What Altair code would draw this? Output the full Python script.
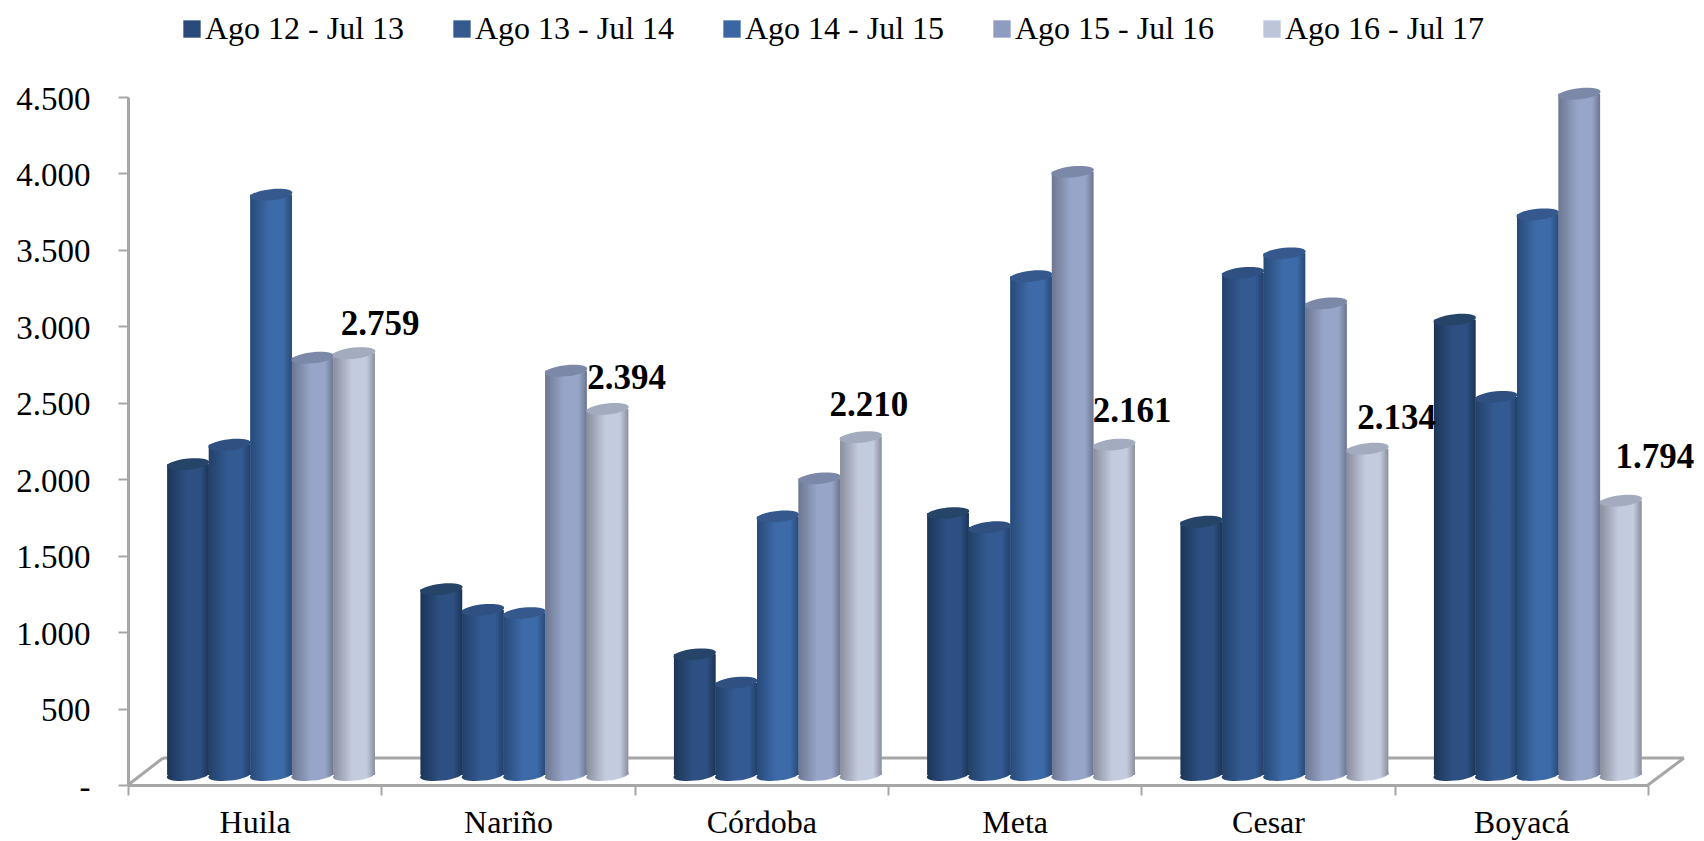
import altair as alt
import pandas as pd

categories = ["Huila", "Nariño", "Córdoba", "Meta", "Cesar", "Boyacá"]
series = ["Ago 12 - Jul 13", "Ago 13 - Jul 14", "Ago 14 - Jul 15", "Ago 15 - Jul 16", "Ago 16 - Jul 17"]
values = {
    series[0]: [2033, 1215, 789, 1713, 1656, 2978],
    series[1]: [2160, 1080, 604, 1620, 3284, 2473],
    series[2]: [3795, 1059, 1691, 3262, 3412, 3667],
    series[3]: [2729, 2644, 1940, 3945, 3085, 4456],
    series[4]: [2759, 2394, 2210, 2161, 2134, 1794],
}
legend_colors = ["#2A4A7B", "#345A8F", "#3A66A3", "#8D9CC0", "#BCC5DA"]
edge_colors = ["#1C3557", "#234069", "#274A78", "#6C7691", "#8A8F9E"]
mid_colors = ["#2D4F81", "#335A92", "#3D6AA8", "#97A6C8", "#C3CBDE"]
cap_colors = ["#264468", "#2F5080", "#35598C", "#7B88A8", "#A3ABBE"]
label_dx = [26, 19, 8, 18, 29, 34]
label_dy = [-29, -31, -32, -34, -31, -44]
FONT = "Liberation Serif"
GREY = "#A6A6A6"
SHIFT_Y = -10

rows = [{"cat": c, "s": s, "v": values[s][i]} for s in series for i, c in enumerate(categories)]
df = pd.DataFrame(rows)

x = alt.X("cat:N", sort=categories, scale=alt.Scale(paddingInner=0, paddingOuter=0),
          axis=alt.Axis(title=None, labelAngle=0, labelFont=FONT, labelFontSize=32, labelColor="#000000",
                        tickBand="extent", tickSize=10, tickWidth=2, tickColor=GREY, domainWidth=3,
                        domainColor=GREY, labelPadding=12, grid=False))
xo = alt.XOffset("s:N", sort=series, scale=alt.Scale(paddingInner=0, paddingOuter=0.55, align=0.86))
yscale = alt.Scale(domain=[0, 4500], nice=False)
yaxis = alt.Axis(title=None, values=[0, 500, 1000, 1500, 2000, 2500, 3000, 3500, 4000, 4500],
                 labelExpr="datum.value == 0 ? '-\u00a0\u00a0\u00a0\u00a0' : replace(format(datum.value, ','), ',', '.')",
                 labelFont=FONT, labelFontSize=33, labelColor="#000000", tickSize=10, tickWidth=2,
                 tickColor=GREY, domainWidth=3, domainColor=GREY, labelPadding=28, labelOffset=2, grid=False)
y = alt.Y("v:Q", scale=yscale, axis=yaxis)


def grad(i):
    return alt.LinearGradient(
        gradient="linear", x1=0, x2=1, y1=0, y2=0,
        stops=[alt.GradientStop(offset=0, color=edge_colors[i]),
               alt.GradientStop(offset=0.45, color=mid_colors[i]),
               alt.GradientStop(offset=0.8, color=mid_colors[i]),
               alt.GradientStop(offset=1, color=edge_colors[i])])


BAR_W = 42.5
ELLIPSE = "M -1 0.1 A 1 0.26 -6 1 0 1 -0.1 A 1 0.26 -6 1 0 -1 0.1 Z"
layers = []
# floor of the 3D box
one = pd.DataFrame({"a": [0]})
layers.append(alt.Chart(one).mark_rule(color=GREY, strokeWidth=3).encode(
    x=alt.value(0), x2=alt.value(35), y=alt.value(688), y2=alt.value(661)))
layers.append(alt.Chart(one).mark_rule(color=GREY, strokeWidth=3).encode(
    x=alt.value(35), x2=alt.value(1556), y=alt.value(661), y2=alt.value(661)))
layers.append(alt.Chart(one).mark_rule(color=GREY, strokeWidth=3).encode(
    x=alt.value(1520), x2=alt.value(1556), y=alt.value(688), y2=alt.value(661)))

# solid base bars carry the legend
layers.append(alt.Chart(df).mark_bar(yOffset=SHIFT_Y, y2Offset=SHIFT_Y).encode(
    x=x, xOffset=xo, y=y,
    color=alt.Color("s:N", sort=series, scale=alt.Scale(domain=series, range=legend_colors),
                    legend=alt.Legend(title=None, orient="none", legendX=48, legendY=-86, columns=5,
                                      direction="horizontal", symbolType="square", symbolSize=300,
                                      symbolStrokeWidth=0, labelFont=FONT, labelFontSize=32,
                                      labelColor="#000000", columnPadding=41, labelLimit=300,
                                      labelOffset={"expr": "-3"}, clipHeight=36))))

for i, s in enumerate(series):
    d = df[df.s == s]
    layers.append(alt.Chart(d).mark_point(shape=ELLIPSE, size=BAR_W ** 2, filled=True, opacity=1, fill=grad(i),
                                          strokeWidth=0, yOffset=SHIFT_Y).encode(
        x=x, xOffset=xo, y=alt.Y("base:Q", scale=yscale, axis=yaxis)
    ).transform_calculate(base="0"))
    layers.append(alt.Chart(d).mark_bar(fill=grad(i), yOffset=SHIFT_Y, y2Offset=SHIFT_Y).encode(
        x=x, xOffset=xo, y=y))
    layers.append(alt.Chart(d).mark_point(shape=ELLIPSE, size=BAR_W ** 2, filled=True, opacity=1,
                                          fill=cap_colors[i], strokeWidth=0,
                                          yOffset=SHIFT_Y).encode(x=x, xOffset=xo, y=y))

last = df[df.s == series[4]].reset_index(drop=True)
for i in range(len(categories)):
    r = last.iloc[[i]].copy()
    r["t"] = r["v"].map(lambda v: f"{v:,}".replace(",", "."))
    layers.append(alt.Chart(r).mark_text(font=FONT, fontSize=35, fontWeight="bold", color="#000000",
                                         dx=label_dx[i], dy=label_dy[i] + SHIFT_Y).encode(
        x=x, xOffset=xo, y=y, text="t:N"))

chart = alt.layer(*layers).properties(
    width=1520, height=688,
    padding={"left": 120, "top": 89, "right": 48, "bottom": 56},
    autosize=alt.AutoSizeParams(type="none"),
).configure_view(stroke=None)

chart.save("out.html", embed_options={"renderer": "svg", "actions": False})
